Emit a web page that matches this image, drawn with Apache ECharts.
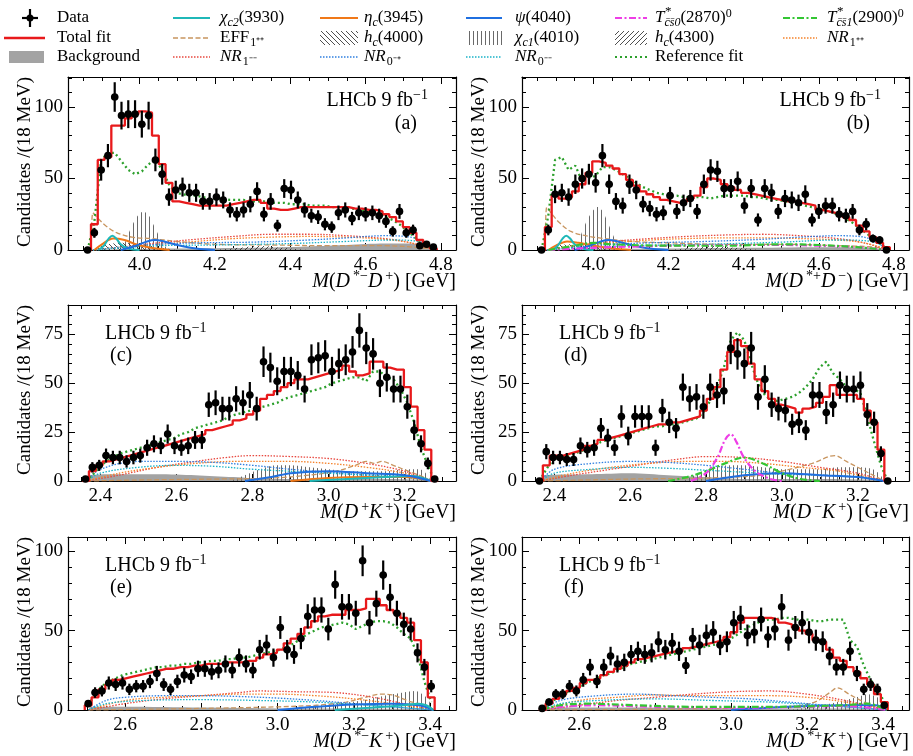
<!DOCTYPE html>
<html><head><meta charset="utf-8">
<script src="https://cdn.jsdelivr.net/npm/echarts@6/dist/echarts.min.js"></script>
<style>html,body{margin:0;padding:0;background:#fff}#c{width:913px;height:756px}</style>
</head><body><div id="c"></div>
<script>
const BIN = 0.018;
// ---------- panel (a): M(D*- D+) ----------
const aStart = 3.862;
const aData = [0,12,56,66,107,94,95,95,88,94,63,53,37,42,44,40,40,34,34,37,35,28,25,28,32,41,25,34,17,43,42,35,28,24,23,18,16,26,28,22,26,25,26,24,20,13,27,12,14,3,4,2];
const aFit  = [0,18,63,65,87,87,92,95,97,96,80,60,47,34,33,32,31,31,31,31,31,32,33,34,35,35,33,29,28,28,29,30,30,30,30,30,30,30,30,29,29,28,28,27,25,23,20,16,12,7,3,1];
const aRef  = [0,20,63,68,68,62,56,53,55,60,63,56,46,40,39,38,38,37,36,36,36,35,35,35,34,34,34,33,33,33,32,32,32,31,31,31,30,30,30,29,28,27,26,25,23,21,18,14,10,6,3,0];
const aBkg   = [[3.87,0],[3.95,0.5],[4.1,1],[4.3,1.5],[4.45,2.5],[4.55,3.5],[4.65,4.5],[4.72,4.5],[4.76,3],[4.785,0]];
const aChic1 = [[3.955,0],[3.965,8],[3.98,17],[3.995,24],[4.01,27],[4.025,24],[4.04,16],[4.055,8],[4.07,2],[4.09,0]];
const aHc4000 = [[3.88,0],[3.9,3],[3.95,5],[4.0,4],[4.05,2],[4.1,0]];
const aHc4300 = [[4.2,0],[4.28,2],[4.32,3],[4.36,2],[4.45,0]];
const aEFF   = [[3.872,0],[3.876,26],[3.89,22],[3.91,17],[3.94,12],[3.98,9],[4.03,8],[4.1,6],[4.2,4],[4.35,3.5],[4.5,3],[4.65,3],[4.75,1.5],[4.785,0]];
const aNR1mm = [[3.876,0],[3.95,2],[4.05,5],[4.15,7.5],[4.25,9.5],[4.35,11],[4.45,11],[4.55,10],[4.65,8],[4.72,5],[4.785,0]];
const aNR1pp = [[3.876,0],[3.95,2],[4.05,4],[4.15,6],[4.25,8],[4.35,9],[4.45,9.5],[4.55,9],[4.65,7.5],[4.72,5],[4.785,0]];
const aNR0mp = [[3.876,0],[3.95,2],[4.05,4],[4.15,5],[4.3,5.5],[4.45,7],[4.55,8.5],[4.65,10],[4.72,9],[4.785,0]];
const aNR0mm = [[3.876,0],[3.95,1.5],[4.05,3],[4.2,3.5],[4.4,4.5],[4.55,6],[4.67,7],[4.74,6],[4.785,0]];
const aChic2 = [[3.89,0],[3.905,3],[3.918,8],[3.928,10],[3.938,8],[3.95,4],[3.97,1],[4.0,0]];
const aEtac  = [[3.88,0],[3.9,4],[3.93,8],[3.96,7],[3.99,4],[4.03,1.5],[4.08,0]];
const aPsi   = [[3.95,0],[3.99,3],[4.02,6],[4.04,7],[4.065,6],[4.1,3.5],[4.15,1],[4.2,0]];
// ---------- panel (b): M(D*+ D-) ----------
const bStart = 3.862;
const bData = [0,14,39,40,37,46,50,53,47,66,46,34,31,46,42,32,29,25,26,38,27,33,36,27,46,56,55,43,43,48,31,43,21,43,40,27,36,35,33,39,21,27,31,31,25,24,27,14,18,8,7,0];
const bFit  = [0,16,38,36,37,41,46,54,62,61,59,57,53,49,45,41,39,37,35,34,33,34,36,38,44,50,49,46,44,42,40,39,38,37,36,35,34,34,33,32,31,28,27,26,25,23,21,17,13,9,5,2];
const bRef  = [0,24,63,65,56,59,48,50,52,58,58,56,53,50,47,44,42,40,39,38,38,37,37,37,37,36,37,38,38,38,38,37,37,36,35,35,34,33,32,31,30,29,28,26,25,22,19,15,12,8,5,1];
const bBkg   = [[3.87,0],[4.0,0.5],[4.2,1],[4.4,1.5],[4.6,2],[4.72,2],[4.785,0]];
const bChic1 = [[3.955,0],[3.965,9],[3.98,19],[3.995,26],[4.01,30],[4.025,27],[4.04,18],[4.055,9],[4.07,3],[4.09,0]];
const bHc4000 = [[3.88,0],[3.9,3],[3.95,4],[4.0,3],[4.05,2],[4.1,0]];
const bHc4300 = [[4.2,0],[4.28,2],[4.32,3],[4.36,2],[4.45,0]];
const bEFF   = [[3.872,0],[3.876,30],[3.89,25],[3.91,19],[3.94,13],[3.98,10],[4.03,8],[4.1,6],[4.2,5],[4.35,4],[4.5,4],[4.65,3],[4.75,2],[4.785,0]];
const bNR1mm = [[3.876,0],[3.95,3],[4.05,6],[4.15,8],[4.25,9.5],[4.35,10.5],[4.45,11],[4.55,10],[4.65,8],[4.72,5],[4.785,0]];
const bNR1pp = [[3.876,0],[3.95,3],[4.05,5],[4.15,7],[4.25,8],[4.35,8.5],[4.45,8.5],[4.55,8],[4.65,7],[4.72,5],[4.785,0]];
const bNR0mp = [[3.876,0],[3.95,2],[4.05,4],[4.15,5],[4.3,6],[4.45,7.5],[4.55,9],[4.65,10],[4.72,9],[4.785,0]];
const bNR0mm = [[3.876,0],[3.95,1.5],[4.1,3],[4.3,4],[4.5,5.5],[4.65,7],[4.74,6],[4.785,0]];
const bChic2 = [[3.89,0],[3.905,3],[3.918,8],[3.928,10],[3.938,8],[3.95,4],[3.97,1],[4.0,0]];
const bEtac  = [[3.88,0],[3.9,3],[3.93,6],[3.96,5],[4.0,3],[4.05,1],[4.1,0]];
const bPsi   = [[3.95,0],[3.99,3],[4.02,6],[4.04,7],[4.065,6],[4.1,3.5],[4.15,1],[4.2,0]];
const bTcs0  = [[3.88,0],[3.95,1],[4.05,2],[4.2,3],[4.35,3.5],[4.5,3.5],[4.6,3],[4.7,2],[4.785,0]];
const bTcs1  = [[3.88,0],[3.95,3],[4.0,5],[4.05,4],[4.2,3],[4.35,3],[4.5,4],[4.6,3.5],[4.7,2],[4.785,0]];
// ---------- panel (c): M(D+ K+) ----------
const cStart = 2.361;
const cData = [1,7,8,13,12,12,10,12,13,17,19,18,24,18,17,18,21,21,39,40,37,37,42,40,44,37,61,58,51,56,56,54,47,62,63,64,56,60,62,66,77,68,65,50,53,47,47,38,26,19,9,1];
const cFit  = [0,5,8,10,11,12,13,14,15,16,17,18,19,20,21,22,23,24,26,27,28,29,31,32,34,36,42,44,46,48,50,52,52,53,54,55,56,57,59,56,54,55,61,61,58,57,57,48,38,26,16,0];
const cRef  = [0,3,7,10,12,14,15,16,17,18,19,20,21,22,24,25,27,28,29,30,31,33,34,35,36,37,38,39,40,42,43,44,45,46,47,48,50,51,52,53,53,51,56,56,53,52,47,40,30,17,8,0];
const cBkg   = [[2.364,0],[2.37,3],[2.45,3.5],[2.55,3.5],[2.65,3],[2.75,2],[2.85,1],[3.0,1],[3.15,1],[3.25,0.5],[3.269,0]];
const cChic1 = [[2.74,0],[2.78,3],[2.82,6],[2.86,8],[2.9,8],[2.95,7],[3.0,6],[3.05,5],[3.1,5],[3.15,5],[3.2,6],[3.24,6],[3.26,3],[3.269,0]];
const cEFF   = [[2.364,0],[2.5,0.5],[2.7,1],[2.85,1.5],[2.95,3],[3.02,5],[3.07,8],[3.1,10],[3.12,9],[3.14,10],[3.17,8],[3.21,5],[3.25,2],[3.269,0]];
const cNR1mm = [[2.364,0],[2.45,3],[2.55,7],[2.65,10],[2.73,12],[2.8,13],[2.9,12.5],[3.0,11.5],[3.1,9],[3.2,5],[3.269,0]];
const cNR1pp = [[2.364,0],[2.45,4],[2.55,7],[2.65,9],[2.75,10],[2.9,10],[3.0,9],[3.1,7],[3.2,4],[3.269,0]];
const cNR0mp = [[2.364,0],[2.4,6],[2.5,10],[2.6,10],[2.7,9.5],[2.8,8],[2.9,6],[3.0,4.5],[3.1,3],[3.2,2],[3.269,0]];
const cNR0mm = [[2.364,0],[2.4,4],[2.5,7],[2.6,8],[2.7,7.5],[2.8,6],[2.9,5],[3.0,4],[3.1,3],[3.2,2],[3.269,0]];
const cPsi   = [[2.78,0],[2.85,2],[2.9,4],[3.0,5],[3.1,4],[3.2,3],[3.269,0]];
const cChic2 = [[2.95,0],[3.05,1],[3.15,2],[3.22,2.5],[3.269,0]];
const cEtac  = [[2.9,0],[3.0,1.5],[3.1,2],[3.2,2],[3.269,0]];
// ---------- panel (d): M(D- K+) ----------
const dStart = 2.361;
const dData = [0,15,12,12,11,11,18,16,17,27,22,17,33,23,33,33,33,17,36,30,27,48,42,43,38,48,44,46,68,65,60,68,43,52,39,37,36,29,30,26,44,44,35,39,49,47,47,49,34,30,14,0];
const dFit  = [0,8,13,13,14,15,16,18,19,21,22,23,24,25,26,27,28,29,29,30,30,31,32,33,36,42,48,57,66,72,69,60,52,46,42,39,38,37,35,37,38,40,43,49,44,44,44,42,36,30,16,0];
const dRef  = [0,6,11,12,13,14,15,17,18,20,21,22,23,24,25,26,27,28,28,29,29,30,31,32,35,41,48,58,72,76,72,60,50,44,41,41,42,43,45,48,52,58,61,55,52,48,47,45,33,20,8,0];
const dBkg   = [[2.364,0],[2.37,3],[2.5,3.5],[2.6,4],[2.7,3],[2.8,2],[2.9,1],[3.1,1],[3.25,0.5],[3.269,0]];
const dChic1 = [[2.74,0],[2.78,4],[2.82,7],[2.86,8],[2.9,8],[2.95,7],[3.0,6],[3.05,6],[3.1,6],[3.15,7],[3.2,7],[3.24,6],[3.26,3],[3.269,0]];
const dEFF   = [[2.364,0],[2.6,1],[2.8,1.5],[2.95,3],[3.02,6],[3.08,9],[3.14,13],[3.17,10],[3.21,6],[3.25,2],[3.269,0]];
const dNR1mm = [[2.364,0],[2.45,3],[2.55,6],[2.65,9],[2.72,11],[2.8,12.5],[2.9,12],[3.0,10],[3.1,7],[3.2,4],[3.269,0]];
const dNR1pp = [[2.364,0],[2.45,4],[2.55,7],[2.65,9],[2.75,10],[2.85,10],[2.95,9],[3.05,7],[3.15,5],[3.269,0]];
const dNR0mp = [[2.364,0],[2.4,6],[2.5,9],[2.6,10],[2.7,9.5],[2.8,8],[2.9,6],[3.0,4],[3.1,3],[3.2,2],[3.269,0]];
const dNR0mm = [[2.364,0],[2.4,4],[2.5,6],[2.6,7],[2.7,6.5],[2.8,5.5],[2.9,4.5],[3.0,3.5],[3.1,3],[3.2,2],[3.269,0]];
const dTcs0  = [[2.76,0],[2.8,4],[2.83,12],[2.85,21],[2.865,24],[2.88,20],[2.9,12],[2.93,5],[2.97,1],[3.0,0]];
const dTcs1  = [[2.7,0],[2.75,2],[2.8,5],[2.85,9],[2.9,12],[2.95,9],[3.0,4],[3.05,1],[3.1,0]];
const dPsi   = [[2.8,0],[2.9,3],[3.0,4],[3.1,3],[3.2,2],[3.269,0]];
// ---------- panel (e): M(D*- K+) ----------
const eStart = 2.503;
const eData = [4,11,12,17,16,17,13,15,15,18,23,16,13,18,22,21,26,26,24,25,29,25,33,29,25,38,41,33,52,38,35,45,59,63,63,51,79,65,65,61,94,55,67,85,71,61,54,51,36,27,15];
const eFit  = [3,8,13,16,19,20,21,22,23,24,25,26,26,27,27,28,28,29,29,29,30,30,30,31,31,33,35,36,38,42,45,48,52,56,59,60,60,60,63,63,64,70,70,66,63,61,58,55,44,30,8];
const eRef  = [3,10,15,18,20,22,23,24,25,26,27,27,28,28,29,29,30,30,31,31,32,32,33,33,34,35,36,37,38,40,42,45,48,50,52,53,54,55,54,51,53,55,56,56,55,52,48,45,35,18,5];
const eBkg   = [[2.504,0],[2.51,2],[2.6,2],[2.8,1.5],[3.0,1],[3.2,1],[3.4,0.5],[3.409,0]];
const eChic1 = [[3.0,0],[3.08,2],[3.15,4],[3.22,6],[3.28,9],[3.33,11],[3.36,12],[3.39,8],[3.409,0]];
const eEFF   = [[2.504,0],[2.8,1],[3.0,2],[3.1,3],[3.18,5],[3.23,8],[3.27,10],[3.3,9.5],[3.34,6],[3.38,3],[3.409,0]];
const eNR1mm = [[2.504,0],[2.6,4],[2.7,7],[2.8,9],[2.9,11],[2.95,12],[3.05,11.5],[3.15,11],[3.25,8],[3.33,4],[3.409,0]];
const eNR1pp = [[2.504,0],[2.6,6],[2.7,8],[2.8,9],[2.9,10],[3.0,10],[3.1,9],[3.2,7],[3.3,4],[3.409,0]];
const eNR0mp = [[2.504,0],[2.55,6],[2.6,8],[2.7,9],[2.8,9],[2.9,8.5],[3.0,7.5],[3.1,6],[3.2,4],[3.3,2],[3.409,0]];
const eNR0mm = [[2.504,0],[2.55,4],[2.65,6],[2.8,6.5],[2.95,6],[3.1,5],[3.2,3.5],[3.3,2],[3.409,0]];
const ePsi   = [[3.0,0],[3.1,2],[3.2,3.5],[3.3,4],[3.37,3],[3.409,0]];
const eChic2 = [[3.15,0],[3.25,1.5],[3.33,3],[3.37,4],[3.39,3],[3.409,0]];
// ---------- panel (f): M(D*+ K+) ----------
const fStart = 2.503;
const fData = [1,5,10,10,15,12,19,27,18,27,34,29,30,35,37,35,36,43,38,42,37,28,45,41,47,49,41,43,55,58,47,49,57,46,51,65,44,52,55,49,44,43,34,27,27,37,23,13,16,13,3];
const fFit  = [0,4,7,10,12,14,17,19,20,22,24,26,28,30,32,33,34,35,36,37,37,39,40,41,42,43,44,46,49,55,58,58,58,58,57,55,54,52,50,48,44,43,38,33,31,27,24,20,16,10,5];
const fRef  = [0,4,7,10,12,14,16,18,20,22,23,25,27,29,30,31,32,33,34,35,36,37,38,39,40,41,42,44,46,49,52,54,56,57,57,58,58,57,57,57,56,56,57,57,57,44,40,28,19,13,5];
const fBkg   = [[2.504,0],[2.51,1.5],[2.7,1.5],[3.0,1],[3.3,1],[3.409,0]];
const fChic1 = [[3.15,0],[3.22,2],[3.28,5],[3.33,8],[3.36,10],[3.385,8],[3.409,0]];
const fEFF   = [[2.504,0],[2.8,0.5],[3.0,1],[3.15,2],[3.22,5],[3.26,11],[3.28,14],[3.31,10],[3.35,5],[3.38,2],[3.409,0]];
const fNR1mm = [[2.504,0],[2.6,3],[2.7,6],[2.8,8],[2.9,10],[3.0,11.5],[3.1,12],[3.2,10],[3.3,6],[3.409,0]];
const fNR1pp = [[2.504,0],[2.6,6],[2.7,8],[2.8,9.5],[2.9,9],[3.0,9],[3.1,9],[3.2,8],[3.3,5],[3.409,0]];
const fNR0mp = [[2.504,0],[2.55,6],[2.65,9],[2.75,10],[2.85,9],[2.95,8],[3.05,7],[3.15,5],[3.25,3],[3.409,0]];
const fNR0mm = [[2.504,0],[2.55,4],[2.65,6],[2.8,7],[2.95,6],[3.1,5],[3.2,3.5],[3.3,2],[3.409,0]];
const fTcs0  = [[2.504,0],[2.55,2],[2.65,3],[2.8,2],[3.0,1.5],[3.2,2],[3.3,2.5],[3.409,0]];
const fTcs1  = [[2.504,0],[2.55,3],[2.62,4],[2.75,3],[2.9,2],[3.1,2],[3.3,3],[3.36,4],[3.409,0]];
const fPsi   = [[3.0,0],[3.15,2],[3.3,3],[3.38,3],[3.409,0]];

const SERIF = '"Liberation Serif", "Times New Roman", serif';

function makePattern(kind){
  const c = document.createElement('canvas');
  const g = c.getContext('2d');
  if (kind === 'v') {
    c.width = 4; c.height = 8;
    g.strokeStyle = '#6a6a6a'; g.lineWidth = 1;
    g.beginPath(); g.moveTo(1.5,0); g.lineTo(1.5,8); g.stroke();
  } else {
    c.width = 5; c.height = 5;
    g.strokeStyle = '#222'; g.lineWidth = 0.8;
    g.beginPath();
    if (kind === 'b') { g.moveTo(-1,-1); g.lineTo(6,6); g.moveTo(-2,3); g.lineTo(2,7); g.moveTo(3,-2); g.lineTo(7,2); }
    else { g.moveTo(-1,6); g.lineTo(6,-1); g.moveTo(-2,2); g.lineTo(2,-2); g.moveTo(3,7); g.lineTo(7,3); }
    g.stroke();
  }
  return {image: c, repeat: 'repeat'};
}
const PAT = {v: makePattern('v'), b: makePattern('b'), f: makePattern('f')};

const STY = {
  bkg:   {area:'#a3a3a3'},
  chic1: {area:PAT.v},
  hc4000:{area:PAT.b},
  hc4300:{area:PAT.f},
  eff:   {color:'#c8955f', dash:[5,2.5], w:1.3},
  nr1mm: {color:'#e8483f', dash:[1.5,1.5], w:1.3},
  nr1pp: {color:'#f5822a', dash:[1.5,1.5], w:1.3},
  nr0mp: {color:'#2f7fe0', dash:[1.5,1.5], w:1.3},
  nr0mm: {color:'#19b3c8', dash:[1.5,1.5], w:1.3},
  chic2: {color:'#1fb8b8', w:2},
  etac:  {color:'#f07818', w:2},
  psi:   {color:'#1f6fe0', w:2},
  tcs0:  {color:'#ee3ee6', dash:[7,2.5,2,2.5], w:2.2},
  tcs1:  {color:'#33c633', dash:[7,2.5,2,2.5], w:2.2}
};

const panels = [
  {g:[68,77,388,173], x:[3.81,4.84], y:[0,121], yi:50, start:aStart, data:aData, fit:aFit, ref:aRef,
   comps:{bkg:aBkg, chic1:aChic1, hc4000:aHc4000, hc4300:aHc4300, eff:aEFF, nr1mm:aNR1mm, nr1pp:aNR1pp, nr0mp:aNR0mp, nr0mm:aNR0mm, etac:aEtac, chic2:aChic2, psi:aPsi},
   xt:'{i|M}({i|D}{sup|*−}{i|D}{sup|+}) [GeV]', lab:'(a)', side:'r'},
  {g:[522,77,387,173], x:[3.81,4.84], y:[0,121], yi:50, start:bStart, data:bData, fit:bFit, ref:bRef,
   comps:{bkg:bBkg, chic1:bChic1, hc4000:bHc4000, hc4300:bHc4300, eff:bEFF, nr1mm:bNR1mm, nr1pp:bNR1pp, nr0mp:bNR0mp, nr0mm:bNR0mm, etac:bEtac, chic2:bChic2, psi:bPsi, tcs0:bTcs0, tcs1:bTcs1},
   xt:'{i|M}({i|D}{sup|*+}{i|D}{sup|−}) [GeV]', lab:'(b)', side:'r'},
  {g:[68,305,388,176], x:[2.315,3.335], y:[0,90], yi:25, start:cStart, data:cData, fit:cFit, ref:cRef,
   comps:{bkg:cBkg, chic1:cChic1, eff:cEFF, nr1mm:cNR1mm, nr1pp:cNR1pp, nr0mp:cNR0mp, nr0mm:cNR0mm, etac:cEtac, chic2:cChic2, psi:cPsi},
   xt:'{i|M}({i|D}{sup|+}{i|K}{sup|+}) [GeV]', lab:'(c)', side:'l'},
  {g:[522,305,387,176], x:[2.315,3.335], y:[0,90], yi:25, start:dStart, data:dData, fit:dFit, ref:dRef,
   comps:{bkg:dBkg, chic1:dChic1, eff:dEFF, nr1mm:dNR1mm, nr1pp:dNR1pp, nr0mp:dNR0mp, nr0mm:dNR0mm, psi:dPsi, tcs1:dTcs1, tcs0:dTcs0},
   xt:'{i|M}({i|D}{sup|−}{i|K}{sup|+}) [GeV]', lab:'(d)', side:'l'},
  {g:[68,537,388,173], x:[2.45,3.468], y:[0,109], yi:50, start:eStart, data:eData, fit:eFit, ref:eRef,
   comps:{bkg:eBkg, chic1:eChic1, eff:eEFF, nr1mm:eNR1mm, nr1pp:eNR1pp, nr0mp:eNR0mp, nr0mm:eNR0mm, psi:ePsi, chic2:eChic2},
   xt:'{i|M}({i|D}{sup|*−}{i|K}{sup|+}) [GeV]', lab:'(e)', side:'l'},
  {g:[522,537,387,173], x:[2.45,3.468], y:[0,109], yi:50, start:fStart, data:fData, fit:fFit, ref:fRef,
   comps:{bkg:fBkg, chic1:fChic1, eff:fEFF, nr1mm:fNR1mm, nr1pp:fNR1pp, nr0mp:fNR0mp, nr0mm:fNR0mm, psi:fPsi, tcs0:fTcs0, tcs1:fTcs1},
   xt:'{i|M}({i|D}{sup|*+}{i|K}{sup|+}) [GeV]', lab:'(f)', side:'l'}
];

function R(fs){
  const s = Math.round(fs*0.7);
  return {
    i:{fontFamily:SERIF, fontSize:fs, fontStyle:'italic', lineHeight:Math.round(fs*1.25)},
    sub:{fontFamily:SERIF, fontSize:s, lineHeight:s, verticalAlign:'bottom', padding:[0,0,0,1]},
    isub:{fontFamily:SERIF, fontSize:s, fontStyle:'italic', lineHeight:s, verticalAlign:'bottom'},
    sup:{fontFamily:SERIF, fontSize:s, lineHeight:s, verticalAlign:'top', padding:[0,0,0,3]},
    sp:{fontFamily:SERIF, fontSize:s, lineHeight:s, verticalAlign:'top'}
  };
}
function T(x, y, text, fs, align, extra){
  return Object.assign({type:'text', x:x, y:y, silent:true, z:100,
    style:{text:text, fill:'#000', fontFamily:SERIF, fontSize:fs, lineHeight:Math.round(fs*1.25),
      align:align||'left', verticalAlign:'middle', textAlign:align||'left', textVerticalAlign:'middle', rich:R(fs)}}, extra||{});
}

const axisCommon = {
  axisLine:{show:true, onZero:false, lineStyle:{color:'#000', width:1.2}},
  axisTick:{show:true, inside:true, length:7, lineStyle:{color:'#000', width:1}},
  minorTick:{show:true, length:4, lineStyle:{color:'#000', width:1}},
  splitLine:{show:false}, minorSplitLine:{show:false}
};
function xAx(p, gi, top){
  return Object.assign({}, JSON.parse(JSON.stringify(axisCommon)), {
    type:'value', gridIndex:gi, position: top ? 'top' : 'bottom', min:p.x[0], max:p.x[1],
    splitNumber:5, minInterval:0.2, maxInterval:0.2,
    minorTick:{show:true, splitNumber:4, length:4, lineStyle:{color:'#000', width:1}},
    axisLabel:{show:!top, showMinLabel:false, showMaxLabel:false, color:'#000', fontFamily:SERIF, fontSize:19, margin:6,
      formatter: function(v){ return v.toFixed(1); }}
  });
}
function yAx(p, gi, right){
  return Object.assign({}, JSON.parse(JSON.stringify(axisCommon)), {
    type:'value', gridIndex:gi, position: right ? 'right' : 'left', min:p.y[0], max:p.y[1],
    splitNumber:3, minInterval:p.yi, maxInterval:p.yi,
    minorTick:{show:true, splitNumber:5, length:4, lineStyle:{color:'#000', width:1}},
    axisLabel:{show:!right, showMinLabel:true, showMaxLabel:false, color:'#000', fontFamily:SERIF, fontSize:19, margin:5,
      formatter: function(v){ return String(Math.round(v)); }}
  });
}

const grids = [], xAxes = [], yAxes = [], series = [], G = [];
panels.forEach(function(p, gi){
  grids.push({left:p.g[0], top:p.g[1], width:p.g[2], height:p.g[3], containLabel:false});
  xAxes.push(xAx(p, gi, false), xAx(p, gi, true));
  yAxes.push(yAx(p, gi, false), yAx(p, gi, true));
  const xi = gi*2, yi = gi*2;
  Object.keys(p.comps).forEach(function(k){
    const st = STY[k], arr = p.comps[k];
    if (st.area) {
      series.push({type:'line', xAxisIndex:xi, yAxisIndex:yi, data:arr, showSymbol:false, smooth:0.3, silent:true,
        lineStyle:{width:0}, areaStyle:{color:st.area, opacity:1}, z:1});
    } else {
      series.push({type:'line', xAxisIndex:xi, yAxisIndex:yi, data:arr, showSymbol:false, smooth:0.35, silent:true,
        lineStyle:{color:st.color, width:st.w, type:st.dash || 'solid'}, z:3});
    }
  });
  const n = p.data.length;
  const centers = p.data.map(function(_, i){ return +(p.start + i*BIN).toFixed(4); });
  series.push({type:'line', xAxisIndex:xi, yAxisIndex:yi, silent:true, showSymbol:false, z:4,
    data: p.ref.map(function(v, i){ return [centers[i], v]; }),
    lineStyle:{color:'#2ca02c', width:2.3, type:[2,3]}});
  const fitPts = [[centers[0]-BIN/2, 0]]
    .concat(p.fit.map(function(v, i){ return [centers[i]-BIN/2, v]; }))
    .concat([[centers[n-1]+BIN/2, p.fit[n-1]], [centers[n-1]+BIN/2, 0]]);
  series.push({type:'line', xAxisIndex:xi, yAxisIndex:yi, silent:true, showSymbol:false, step:'end', z:5,
    data: fitPts, lineStyle:{color:'#e8191b', width:2.3}});
  series.push({type:'custom', xAxisIndex:xi, yAxisIndex:yi, silent:true, z:6,
    encode:{x:0, y:1},
    data: p.data.map(function(v, i){ return [centers[i], v, Math.sqrt(v)]; }),
    renderItem: function(params, api){
      const x = api.value(0), y = api.value(1), e = api.value(2);
      const pt = api.coord([x, y]);
      const lo = api.coord([x, Math.max(0, y - e)]);
      const hi = api.coord([x, y + e]);
      const l = api.coord([x - BIN/2, y]);
      const r = api.coord([x + BIN/2, y]);
      const ch = [];
      if (e > 0) ch.push({type:'line', shape:{x1:pt[0], y1:lo[1], x2:pt[0], y2:hi[1]}, style:{stroke:'#000', lineWidth:2.2}});
      ch.push({type:'line', shape:{x1:l[0], y1:pt[1], x2:r[0], y2:pt[1]}, style:{stroke:'#000', lineWidth:2}});
      ch.push({type:'circle', shape:{cx:pt[0], cy:pt[1], r:3.8}, style:{fill:'#000'}});
      return {type:'group', children:ch};
    }});
  const L = p.g[0], Tp = p.g[1], W = p.g[2], H = p.g[3];
  G.push(T(L + W, Tp + H + 32, p.xt, 20, 'right'));
  G.push(T(L - 43, Tp, 'Candidates /(18 MeV)', 19, 'right', {rotation: Math.PI/2}));
  if (p.side === 'r') {
    G.push(T(L + W - 28, Tp + 24, 'LHCb 9 fb{sp|−1}', 20, 'right'));
    G.push(T(L + W - 39, Tp + 47, p.lab, 20, 'right'));
  } else {
    G.push(T(L + 37, Tp + 29, 'LHCb 9 fb{sp|−1}', 20, 'left'));
    G.push(T(L + 42, Tp + 51, p.lab, 20, 'left'));
  }
});

// ---------- legend ----------
const LR = [18, 38, 57];
const LC = [[4,45,57],[173,210,220],[320,358,364],[466,502,515],[615,647,655],[783,817,827]];
function Lline(c, r, color, w, dash){
  return {type:'line', silent:true, z:100, shape:{x1:LC[c][0], y1:LR[r], x2:LC[c][1], y2:LR[r]},
    style:{stroke:color, lineWidth:w, lineDash:dash || null}};
}
function Lhatch(c, r, pat){
  return {type:'rect', silent:true, z:100, shape:{x:LC[c][0], y:LR[r]-7, width:LC[c][1]-LC[c][0], height:14},
    style:{fill:pat, stroke:null}};
}
function Ltext(c, r, text){ return T(LC[c][2], LR[r], text, 17, 'left'); }
G.push({type:'line', silent:true, z:100, shape:{x1:30, y1:9, x2:30, y2:27}, style:{stroke:'#000', lineWidth:2.2}});
G.push({type:'line', silent:true, z:100, shape:{x1:22, y1:18, x2:38, y2:18}, style:{stroke:'#000', lineWidth:2.2}});
G.push({type:'circle', silent:true, z:100, shape:{cx:30, cy:18, r:3.5}, style:{fill:'#000'}});
G.push(Ltext(0,0,'Data'));
G.push(Lline(0,1,'#e8191b',2.5));
G.push(Ltext(0,1,'Total fit'));
G.push({type:'rect', silent:true, z:100, shape:{x:9, y:51, width:35, height:12}, style:{fill:'#a3a3a3'}});
G.push(Ltext(0,2,'Background'));
G.push(Lline(1,0,STY.chic2.color,2)); G.push(Ltext(1,0,'{i|χ}{isub|c2}(3930)'));
G.push(Lline(1,1,STY.eff.color,1.3,STY.eff.dash)); G.push(Ltext(1,1,'EFF{sub|1⁺⁺}'));
G.push(Lline(1,2,STY.nr1mm.color,1.3,STY.nr1mm.dash)); G.push(Ltext(1,2,'{i|NR}{sub|1⁻⁻}'));
G.push(Lline(2,0,STY.etac.color,2)); G.push(Ltext(2,0,'{i|η}{isub|c}(3945)'));
G.push(Lhatch(2,1,PAT.b)); G.push(Ltext(2,1,'{i|h}{isub|c}(4000)'));
G.push(Lline(2,2,STY.nr0mp.color,1.3,STY.nr0mp.dash)); G.push(Ltext(2,2,'{i|NR}{sub|0⁻⁺}'));
G.push(Lline(3,0,STY.psi.color,2)); G.push(Ltext(3,0,'{i|ψ}(4040)'));
G.push(Lhatch(3,1,PAT.v)); G.push(Ltext(3,1,'{i|χ}{isub|c1}(4010)'));
G.push(Lline(3,2,STY.nr0mm.color,1.3,STY.nr0mm.dash)); G.push(Ltext(3,2,'{i|NR}{sub|0⁻⁻}'));
G.push(Lline(4,0,STY.tcs0.color,2.2,STY.tcs0.dash)); G.push(Ltext(4,0,'{i|T}{isub|c̄s̄0}(2870){sp|0}'));
G.push(T(LC[4][2]+10, LR[0]-6, '*', 13, 'left'));
G.push(Lhatch(4,1,PAT.f)); G.push(Ltext(4,1,'{i|h}{isub|c}(4300)'));
G.push(Lline(4,2,'#2ca02c',2.2,[2,3])); G.push(Ltext(4,2,'Reference fit'));
G.push(Lline(5,0,STY.tcs1.color,2.2,STY.tcs1.dash)); G.push(Ltext(5,0,'{i|T}{isub|c̄s̄1}(2900){sp|0}'));
G.push(T(LC[5][2]+10, LR[0]-6, '*', 13, 'left'));
G.push(Lline(5,1,STY.nr1pp.color,1.3,STY.nr1pp.dash)); G.push(Ltext(5,1,'{i|NR}{sub|1⁺⁺}'));

const chart = echarts.init(document.getElementById('c'), null, {renderer:'canvas', width:913, height:756});
chart.setOption({
  animation:false, backgroundColor:'#fff',
  grid:grids, xAxis:xAxes, yAxis:yAxes, series:series,
  graphic:{elements:G}
});
</script></body></html>
